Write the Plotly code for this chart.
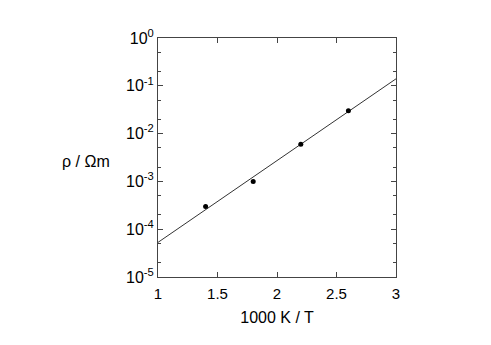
import plotly.graph_objects as go

# data points
x_pts = [1.4, 1.8, 2.2, 2.6]
rho_pts = [3.0e-4, 1.0e-3, 6.0e-3, 3.0e-2]
# fit line endpoints
x_fit = [1.0, 3.0]
rho_fit = [5.3e-5, 0.14]

x_ticks = [1, 1.5, 2, 2.5, 3]
x_ticktext = ["1", "1.5", "2", "2.5", "3"]
y_ticks = [1e-5, 1e-4, 1e-3, 1e-2, 1e-1, 1e0]
y_ticktext = ["10<sup>-5</sup>", "10<sup>-4</sup>", "10<sup>-3</sup>",
              "10<sup>-2</sup>", "10<sup>-1</sup>", "10<sup>0</sup>"]
y_minor = [m * 10.0 ** e for e in range(-5, 0) for m in (2, 5)]

axcol = "#444444"
fig = go.Figure()
fig.add_trace(go.Scatter(x=x_fit, y=rho_fit, mode="lines",
                         line=dict(color="#333333", width=1), showlegend=False))
fig.add_trace(go.Scatter(x=x_pts, y=rho_pts, mode="markers",
                         marker=dict(color="black", size=5), showlegend=False))

pw = 491 - 158 - 95
ph = 345 - 38 - 68
fig.update_layout(
    width=491, height=345,
    margin=dict(l=158, r=95, t=38, b=68),
    paper_bgcolor="white", plot_bgcolor="white",
    font=dict(family="Liberation Sans, Arial, sans-serif", size=15, color="black"),
    xaxis=dict(range=[1, 3], tickvals=x_ticks, ticktext=x_ticktext,
               ticks="inside", ticklen=5, tickcolor=axcol, showline=True,
               linecolor=axcol, linewidth=1, mirror="allticks", showgrid=False,
               zeroline=False, ticklabelstandoff=3,
               title=dict(text="1000 K / T", font=dict(size=16), standoff=10)),
    yaxis=dict(type="log", range=[-5, 0], tickvals=y_ticks, ticktext=y_ticktext,
               ticks="inside", ticklen=5, tickcolor=axcol, showline=True,
               linecolor=axcol, linewidth=1, mirror="allticks", showgrid=False,
               zeroline=False, tickfont=dict(size=16),
               minor=dict(tickvals=y_minor, ticks="inside", ticklen=3,
                          tickcolor=axcol, showgrid=False)),
    annotations=[dict(text="ρ / Ωm", x=(112 - 158) / pw, y=(277 - 161) / ph,
                      xref="paper", yref="paper", xanchor="right",
                      yanchor="middle", showarrow=False, font=dict(size=16))],
)
fig.write_html("out.html")
